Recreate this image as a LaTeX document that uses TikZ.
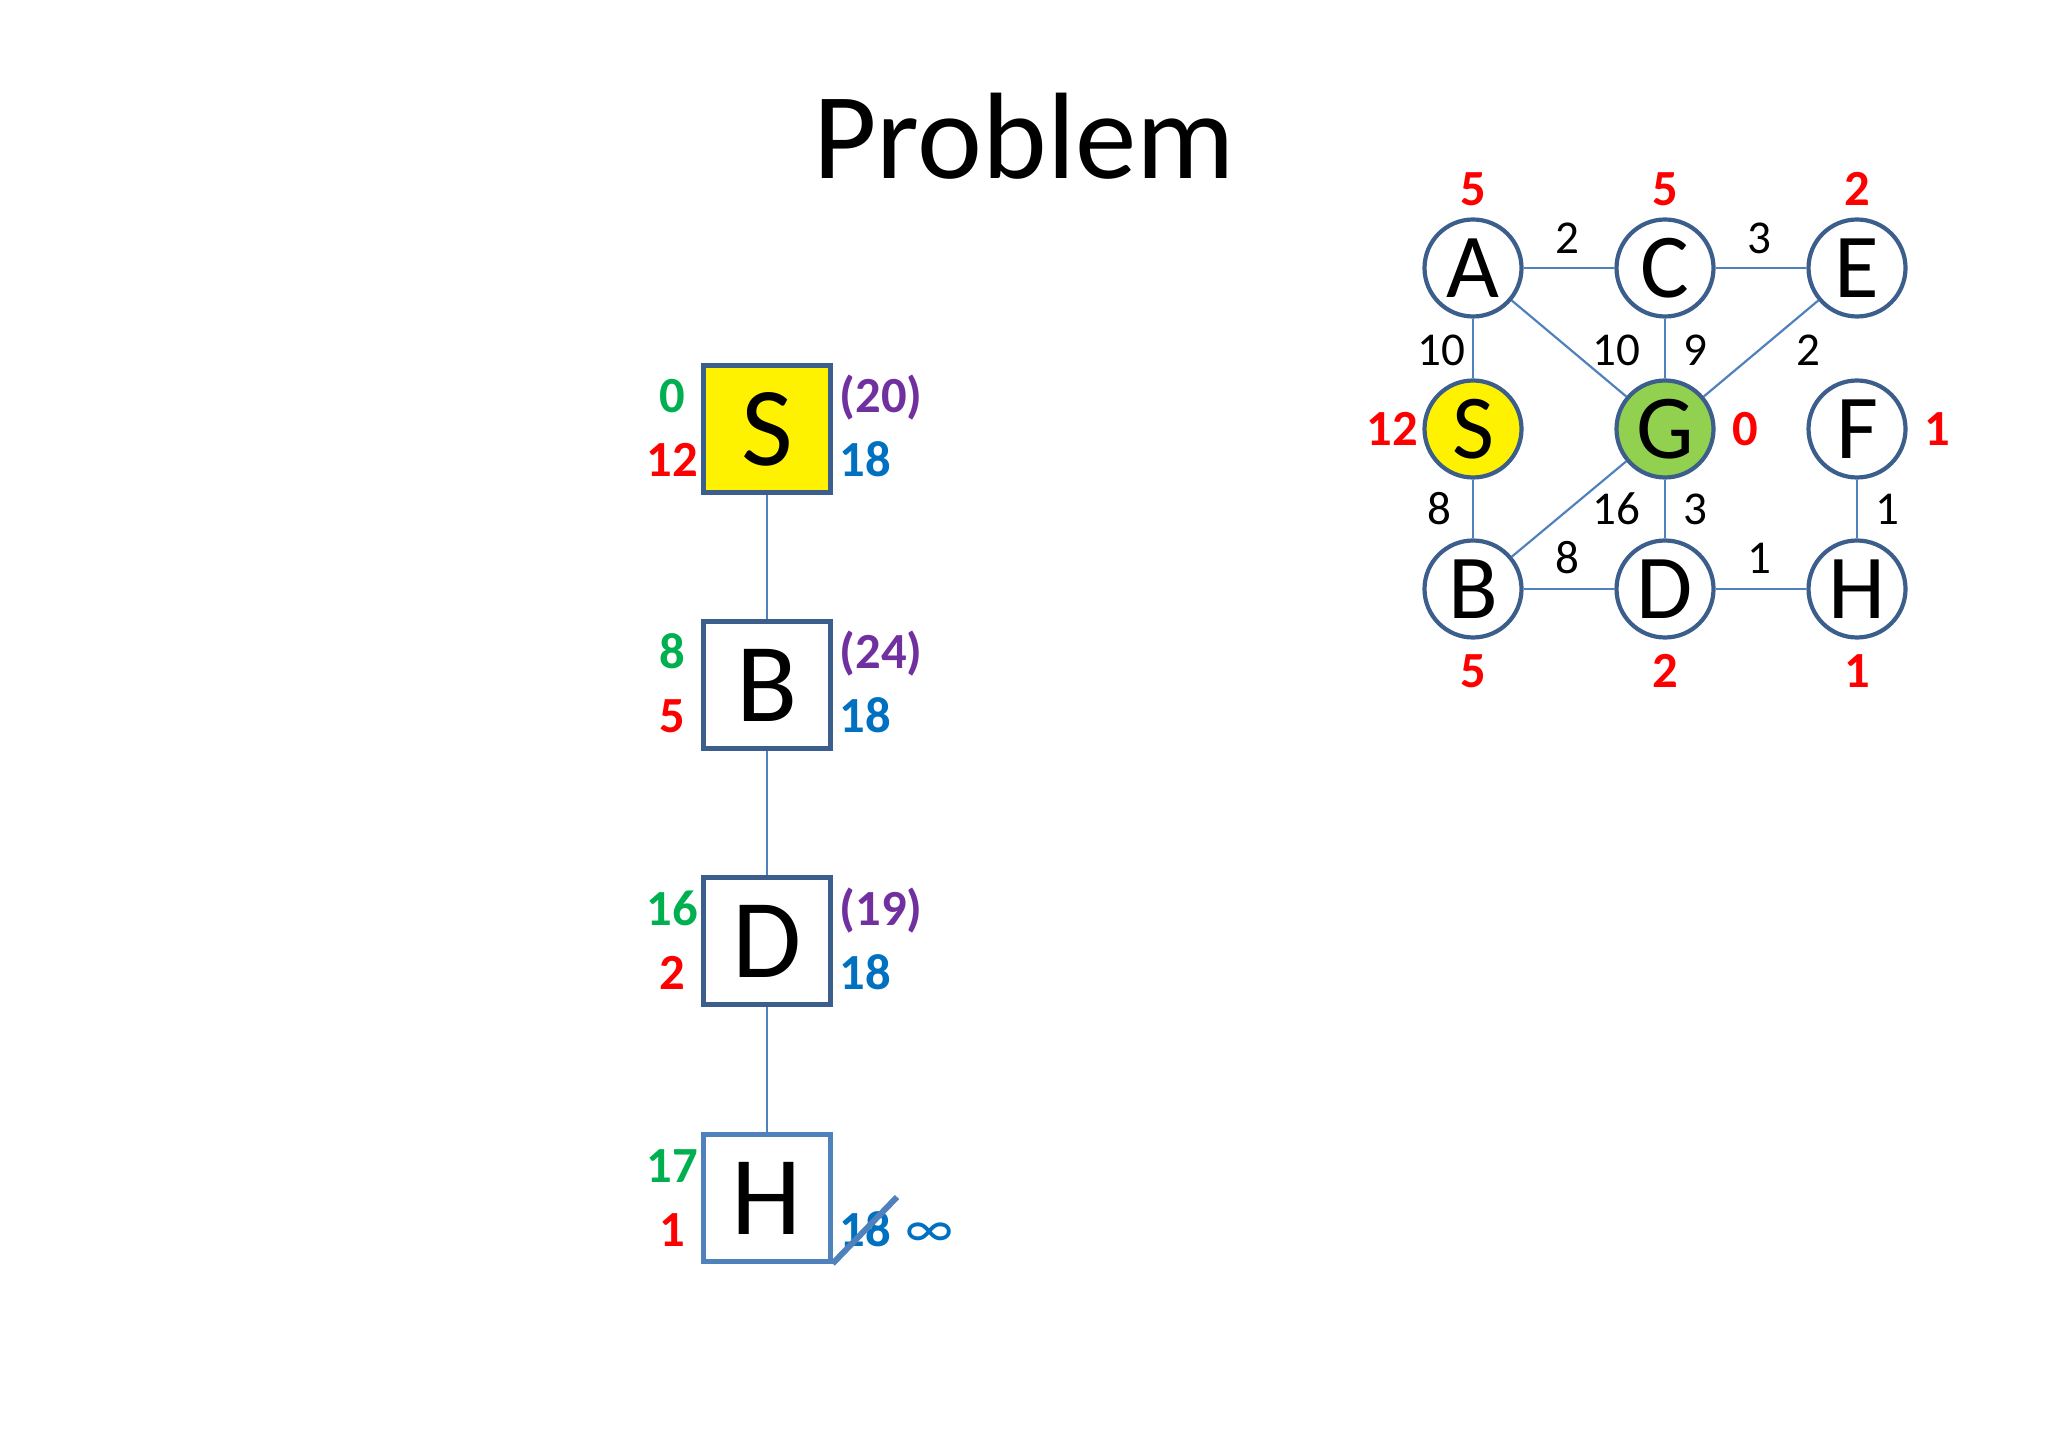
\documentclass[tikz,border=0pt]{standalone}
\usepackage{fontspec}
\setmainfont{Carlito}
\definecolor{nodeblue}{HTML}{3B5E8C}
\definecolor{edgeblue}{HTML}{4F81BD}
\definecolor{gcol}{HTML}{00B050}
\definecolor{hcol}{HTML}{FF0000}
\definecolor{fcol}{HTML}{7030A0}
\definecolor{bcol}{HTML}{0070C0}
\definecolor{goalgreen}{HTML}{92D050}

\begin{document}
\begin{tikzpicture}[
            x=0.1mm, y=-0.1mm,
            treebox/.style={
                rectangle, draw=nodeblue, fill=white, line width=0.42mm,
                minimum size=12.7mm, inner sep=0pt,
                font=\fontsize{32}{36}\selectfont
            },
            gnode/.style={
                circle, draw=nodeblue, fill=white, line width=0.42mm,
                minimum size=9.7mm, inner sep=0pt,
                font=\fontsize{26}{30}\selectfont
            },
            val/.style={text=#1, font=\bfseries\fontsize{14.4}{16}\selectfont, inner sep=0pt},
            wt/.style={font=\fontsize{13.4}{15}\selectfont, inner sep=0pt},
            link/.style={edgeblue, line width=0.22mm}
        ]
        \useasboundingbox (0,0) rectangle (2048,1434);

        % --- Title ---
        \node[font=\fontsize{35}{40}\selectfont, anchor=base, inner sep=0pt] (title) at (1024,179) {Problem};

        % --- Search tree ---
        \node[treebox, fill=yellow] (tS) at (767,429) {S};
        \node[treebox] (tB) at (767,685) {B};
        \node[treebox] (tD) at (767,941) {D};
        \node[treebox, draw=edgeblue] (tH) at (767,1198) {H};

        \node[val=gcol, anchor=base] (gS) at (672,413) {0};
        \node[val=hcol, anchor=base] (hS) at (672,477) {12};
        \node[val=fcol, anchor=base west] (fS) at (839,413) {(20)};
        \node[val=bcol, anchor=base west] (bS) at (839,477) {18};

        \node[val=gcol, anchor=base] (gB) at (672,669) {8};
        \node[val=hcol, anchor=base] (hB) at (672,733) {5};
        \node[val=fcol, anchor=base west] (fB) at (839,669) {(24)};
        \node[val=bcol, anchor=base west] (bB) at (839,733) {18};

        \node[val=gcol, anchor=base] (gD) at (672,925) {16};
        \node[val=hcol, anchor=base] (hD) at (672,989) {2};
        \node[val=fcol, anchor=base west] (fD) at (839,925) {(19)};
        \node[val=bcol, anchor=base west] (bD) at (839,989) {18};

        \node[val=gcol, anchor=base] (gH) at (672,1182) {17};
        \node[val=hcol, anchor=base] (hH) at (672,1246) {1};
        \node[val=bcol, anchor=base west] (bH) at (839,1246) {18};
        \node[text=bcol, font=\fontsize{16}{18}\selectfont, anchor=base west, inner sep=0pt] (inf) at (905,1247) {∞};

        \draw[link] (tS) -- (tB);
        \draw[link] (tB) -- (tD);
        \draw[link] (tD) -- (tH);

        % strike out the old bound
        \coordinate (cut) at (897,1197);
        \draw[edgeblue, line width=0.6mm] (tH.south east) -- (cut);

        % --- Graph ---
        \node[gnode] (A) at (1473,268) {A};
        \node[gnode] (C) at (1665,268) {C};
        \node[gnode] (E) at (1857,268) {E};
        \node[gnode, fill=yellow] (S) at (1473,429) {S};
        \node[gnode, fill=goalgreen] (G) at (1665,429) {G};
        \node[gnode] (F) at (1857,429) {F};
        \node[gnode] (B) at (1473,589) {B};
        \node[gnode] (D) at (1665,589) {D};
        \node[gnode] (H) at (1857,589) {H};

        \draw[link] (A) -- (C);
        \draw[link] (C) -- (E);
        \draw[link] (A) -- (S);
        \draw[link] (A) -- (G);
        \draw[link] (C) -- (G);
        \draw[link] (E) -- (G);
        \draw[link] (S) -- (B);
        \draw[link] (B) -- (G);
        \draw[link] (G) -- (D);
        \draw[link] (B) -- (D);
        \draw[link] (D) -- (H);
        \draw[link] (F) -- (H);

        % edge costs
        \node[wt] (wAC) at (1567,238) {2};
        \node[wt] (wCE) at (1759,238) {3};
        \node[wt] (wAS) at (1441,350) {10};
        \node[wt] (wAG) at (1616,350) {10};
        \node[wt] (wCG) at (1695,350) {9};
        \node[wt] (wEG) at (1808,350) {2};
        \node[wt] (wSB) at (1439,509) {8};
        \node[wt] (wBG) at (1616,509) {16};
        \node[wt] (wGD) at (1695,509) {3};
        \node[wt] (wFH) at (1887,509) {1};
        \node[wt] (wBD) at (1567,558) {8};
        \node[wt] (wDH) at (1759,558) {1};

        % heuristic values
        \node[val=hcol] (hA) at (1473,189) {5};
        \node[val=hcol] (hC) at (1665,189) {5};
        \node[val=hcol] (hE) at (1857,189) {2};
        \node[val=hcol] (hSg) at (1392,429) {12};
        \node[val=hcol] (hG) at (1745,429) {0};
        \node[val=hcol] (hF) at (1937,429) {1};
        \node[val=hcol] (hBg) at (1473,671) {5};
        \node[val=hcol] (hDg) at (1665,671) {2};
        \node[val=hcol] (hHg) at (1857,671) {1};

    \end{tikzpicture}
\end{document}
